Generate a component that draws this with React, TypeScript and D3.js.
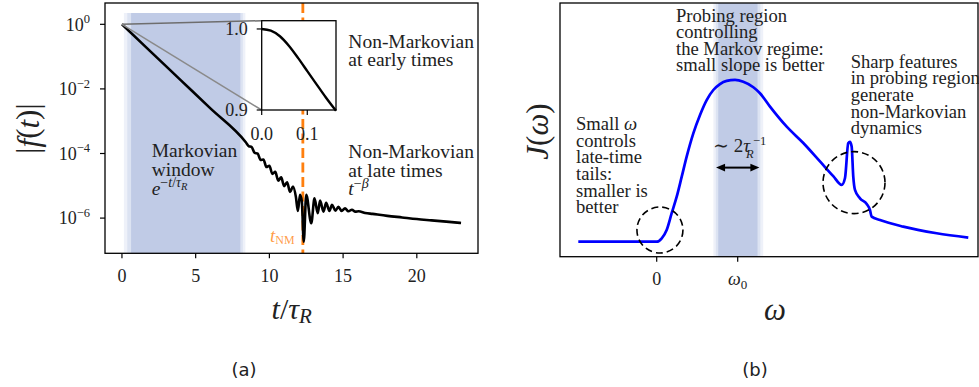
import React from "react";
import * as d3 from "d3";

// ---------- Panel (a) data ----------
const decayT = [0, 2, 4, 6, 8.4, 8.6, 8.8, 9.0, 9.2, 9.4, 9.6, 9.8, 10.0, 10.2, 10.4, 10.6, 10.8, 11.0, 11.2, 11.4, 11.6, 11.8, 11.93, 12.08, 12.2, 12.33, 12.5, 12.84, 13.06, 13.28, 13.44, 13.67, 13.85, 14.07, 14.25, 14.48, 14.68, 14.9, 15.13, 15.36, 15.6, 15.83, 16.05, 16.5, 17, 18, 19, 20, 21, 22, 23];
const decayLog10 = [0, -0.868, -1.736, -2.604, -3.65, -3.77, -3.8, -3.98, -4.0, -4.2, -4.19, -4.42, -4.38, -4.63, -4.57, -4.84, -4.74, -5.01, -4.89, -5.19, -5.02, -5.35, -5.78, -5.28, -5.48, -6.73, -5.28, -6.16, -5.39, -5.85, -5.46, -5.8, -5.53, -5.78, -5.59, -5.77, -5.65, -5.78, -5.7, -5.79, -5.74, -5.8, -5.79, -5.84, -5.87, -5.93, -5.98, -6.03, -6.07, -6.11, -6.15];
const insetT = [0, 0.02, 0.04, 0.06, 0.08, 0.1, 0.12, 0.14, 0.163];
const insetF = [1.0, 0.998, 0.991, 0.979, 0.964, 0.948, 0.932, 0.916, 0.899];
const tTicks = [0, 5, 10, 15, 20];
const fTickExps = [0, -2, -4, -6];
const insetXTicks = [0.0, 0.1];
const insetXLabels = ["0.0", "0.1"];
const insetYTicks = [1.0, 0.9];
const insetYLabels = ["1.0", "0.9"];
const markovWindow = [0.62, 8.03];
const tNM = 12.27;

// ---------- Panel (b) data ----------
const omega = [-0.968, 0, 0.062, 0.123, 0.185, 0.247, 0.309, 0.37, 0.452, 0.535, 0.617, 0.699, 0.781, 0.864, 0.967, 1.069, 1.193, 1.275, 1.399, 1.605, 1.81, 2.016, 2.18, 2.284, 2.325, 2.365, 2.386, 2.407, 2.427, 2.448, 2.51, 2.593, 2.633, 2.654, 2.757, 3.044, 3.457, 3.847];
const spectralJ = [0, 0, 0.021, 0.072, 0.176, 0.278, 0.402, 0.526, 0.67, 0.784, 0.876, 0.938, 0.975, 0.994, 1.0, 0.989, 0.955, 0.918, 0.835, 0.711, 0.61, 0.496, 0.405, 0.351, 0.394, 0.609, 0.618, 0.588, 0.402, 0.32, 0.268, 0.233, 0.196, 0.155, 0.134, 0.093, 0.052, 0.025];
const omegaTicks = [0, 1];
const probeBand = [0.76, 1.245];
const arrowSpan = [0.733, 1.268];
const arrowJ = 0.458;
const circleCenters = [[0.04, 0.072], [2.436, 0.365]];

const SERIF = "Liberation Serif, DejaVu Serif, serif";
const SANS = "DejaVu Sans, sans-serif";
const TXT = "#222";

export default function App() {
  // panel (a) scales
  const xA = d3.scaleLinear().domain([-1.15, 24.15]).range([105, 478]);
  const yA = d3.scaleLog().domain([Math.pow(10, -7.09), Math.pow(10, 0.66)]).range([253.3, 3]);
  const xI = d3.scaleLinear().domain([0, 0.163]).range([261.7, 336]);
  const yI = d3.scaleLinear().domain([0.9, 1.0102]).range([110, 20.7]);
  // panel (b) scales
  const xB = d3.scaleLinear().domain([-1.194, 3.967]).range([560, 978]);
  const yB = d3.scaleLinear().domain([-0.093, 1.476]).range([256.7, 3]);

  const decayPath = d3
    .line<number>()
    .x((d) => xA(d))
    .y((_, i) => yA(Math.pow(10, decayLog10[i])))
    .curve(d3.curveMonotoneX)(decayT) as string;
  const insetPath = d3
    .line<number>()
    .x((d) => xI(d))
    .y((_, i) => yI(insetF[i]))
    .curve(d3.curveMonotoneX)(insetT) as string;
  const jPath = d3
    .line<number>()
    .x((d) => xB(d))
    .y((_, i) => yB(spectralJ[i]))
    .curve(d3.curveMonotoneX)(omega) as string;

  const [aL, aR] = [xA.range()[0], xA.range()[1]];
  const [aT, aB] = [yA.range()[1], yA.range()[0]];
  const [bL, bR] = [xB.range()[0], xB.range()[1]];
  const [bT, bB] = [yB.range()[1], yB.range()[0]];
  const bandTop = yA(Math.pow(10, 0.35));

  const ax1 = xB(arrowSpan[0]);
  const ax2 = xB(arrowSpan[1]);
  const ay = yB(arrowJ);

  const serif = { fontFamily: SERIF };

  return (
    <svg
      width={979}
      height={387}
      style={{ position: "absolute", left: 0, top: 0, background: "#fff", fontFamily: SERIF }}
    >
      {/* ================= Panel (a) ================= */}
      <rect x={xA(markovWindow[0] - 0.49)} y={bandTop} width={xA(markovWindow[1] + 0.34) - xA(markovWindow[0] - 0.49)} height={aB - bandTop} fill="#eef1f9" />
      <rect x={xA(markovWindow[0] - 0.26)} y={bandTop} width={xA(markovWindow[1] + 0.17) - xA(markovWindow[0] - 0.26)} height={aB - bandTop} fill="#dce3f2" />
      <rect x={xA(markovWindow[0])} y={bandTop} width={xA(markovWindow[1]) - xA(markovWindow[0])} height={aB - bandTop} fill="#c0cbe6" />

      <line x1={xA(tNM)} x2={xA(tNM)} y1={aT} y2={aB} stroke="#ff7f0e" strokeWidth={2.8} strokeDasharray="10,4.5" />

      <path d={decayPath} fill="none" stroke="#000" strokeWidth={2.6} strokeLinejoin="round" />

      {/* connector lines to inset */}
      <line x1={xA(0)} y1={yA(1)} x2={xI(0)} y2={yI(1.0102)} stroke="#6e6e6e" strokeWidth={1.5} />
      <line x1={xA(0)} y1={yA(1)} x2={xI(0)} y2={yI(0.9)} stroke="#8a8a8a" strokeWidth={1.5} />

      {/* inset */}
      <rect x={xI(0)} y={yI(1.0102)} width={xI(0.163) - xI(0)} height={yI(0.9) - yI(1.0102)} fill="#fff" />
      <path d={insetPath} fill="none" stroke="#000" strokeWidth={2.4} />
      <rect x={xI(0)} y={yI(1.0102)} width={xI(0.163) - xI(0)} height={yI(0.9) - yI(1.0102)} fill="none" stroke="#000" strokeWidth={1.3} />
      {insetXTicks.map((v, i) => (
        <g key={"ix" + i}>
          <line x1={xI(v)} x2={xI(v)} y1={yI(0.9)} y2={yI(0.9) + 5} stroke="#000" strokeWidth={1.2} />
          <text x={xI(v)} y={139.5} textAnchor="middle" fontSize={18} fill={TXT} style={serif}>{insetXLabels[i]}</text>
        </g>
      ))}
      {insetYTicks.map((v, i) => (
        <g key={"iy" + i}>
          <line x1={xI(0) - 5} x2={xI(0)} y1={yI(v)} y2={yI(v)} stroke="#000" strokeWidth={1.2} />
          <text x={xI(0) - 14} y={yI(v) + 6} textAnchor="end" fontSize={18} fill={TXT} style={serif}>{insetYLabels[i]}</text>
        </g>
      ))}

      {/* axes box a */}
      <rect x={aL} y={aT} width={aR - aL} height={aB - aT} fill="none" stroke="#000" strokeWidth={1.3} />
      {tTicks.map((v) => (
        <g key={"tx" + v}>
          <line x1={xA(v)} x2={xA(v)} y1={aB} y2={aB + 5} stroke="#000" strokeWidth={1.2} />
          <text x={xA(v)} y={281.7} textAnchor="middle" fontSize={18} fill={TXT} style={serif}>{v}</text>
        </g>
      ))}
      {fTickExps.map((k) => (
        <g key={"fy" + k}>
          <line x1={aL - 5} x2={aL} y1={yA(Math.pow(10, k))} y2={yA(Math.pow(10, k))} stroke="#000" strokeWidth={1.2} />
          <text x={90} y={yA(Math.pow(10, k)) + 6.2} textAnchor="end" fontSize={18} fill={TXT} style={serif}>
            10<tspan dy={-7.5} fontSize={12.5}>{k === 0 ? "0" : "\u2212" + -k}</tspan>
          </text>
        </g>
      ))}

      {/* annotations a */}
      <g fontSize={19.5} fill={TXT} style={serif}>
        <text x={151.7} y={156.7}>Markovian</text>
        <text x={151.7} y={175.7}>window</text>
        <text x={151.7} y={194.5}>
          <tspan fontStyle="italic">e</tspan>
          <tspan dy={-7.5} fontSize={14}>{"\u2212"}</tspan>
          <tspan fontSize={14} fontStyle="italic">t</tspan>
          <tspan fontSize={14}>/</tspan>
          <tspan fontSize={14} fontStyle="italic">τ</tspan>
          <tspan dy={3} fontSize={10.5} fontStyle="italic">R</tspan>
        </text>
        <text x={348.3} y={48.3}>Non-Markovian</text>
        <text x={348.3} y={65.5}>at early times</text>
        <text x={348.3} y={158.3}>Non-Markovian</text>
        <text x={348.3} y={176.7}>at late times</text>
        <text x={348.3} y={195}>
          <tspan fontStyle="italic">t</tspan>
          <tspan dy={-7.5} fontSize={14}>{"\u2212"}</tspan>
          <tspan fontSize={14} fontStyle="italic">β</tspan>
        </text>
      </g>
      <text x={270} y={241.7} fill="#ff7f0e" fillOpacity={0.78} fontSize={19} style={serif}>
        <tspan fontStyle="italic">t</tspan>
        <tspan dy={2} fontSize={12}>NM</tspan>
      </text>

      {/* axis labels a */}
      <text transform="translate(27.5,128.5) rotate(-90)" textAnchor="middle" dominantBaseline="central" fontSize={31} fill={TXT} style={serif}>
        |<tspan fontStyle="italic">f</tspan>(<tspan fontStyle="italic">t</tspan>)|
      </text>
      <text x={291.7} y={318.5} textAnchor="middle" fontSize={30} fill={TXT} style={serif}>
        <tspan fontStyle="italic">t</tspan>/<tspan fontStyle="italic">τ</tspan>
        <tspan dy={4} fontSize={21} fontStyle="italic">R</tspan>
      </text>
      <text x={244} y={376} textAnchor="middle" fontSize={18} fill={TXT} style={{ fontFamily: SANS }}>(a)</text>

      {/* ================= Panel (b) ================= */}
      <rect x={xB(probeBand[0] - 0.06)} y={bT} width={xB(probeBand[1] + 0.07) - xB(probeBand[0] - 0.06)} height={bB - bT} fill="#eef1f9" />
      <rect x={xB(probeBand[0] - 0.03)} y={bT} width={xB(probeBand[1] + 0.035) - xB(probeBand[0] - 0.03)} height={bB - bT} fill="#dce3f2" />
      <rect x={xB(probeBand[0])} y={bT} width={xB(probeBand[1]) - xB(probeBand[0])} height={bB - bT} fill="#c0cbe6" />

      <path d={jPath} fill="none" stroke="#0000ff" strokeWidth={2.7} strokeLinejoin="round" />

      {circleCenters.map((c, i) => (
        <circle key={"c" + i} cx={xB(c[0])} cy={yB(c[1])} r={i === 0 ? 23 : 31} fill="none" stroke="#000" strokeWidth={1.6} strokeDasharray="7,4" />
      ))}

      {/* double arrow */}
      <line x1={ax1 + 6} x2={ax2 - 6} y1={ay} y2={ay} stroke="#000" strokeWidth={2} />
      <polygon points={`${ax1},${ay} ${ax1 + 9},${ay - 3.8} ${ax1 + 9},${ay + 3.8}`} fill="#000" />
      <polygon points={`${ax2},${ay} ${ax2 - 9},${ay - 3.8} ${ax2 - 9},${ay + 3.8}`} fill="#000" />
      <g fill={TXT} style={serif}>
        <text x={713} y={151.7} fontSize={19}>∼ 2<tspan fontStyle="italic">τ</tspan></text>
        <text x={746} y={157.5} fontSize={12.5} fontStyle="italic">R</text>
        <text x={753} y={145} fontSize={12.5}>{"\u2212"}1</text>
      </g>

      {/* axes box b */}
      <rect x={bL} y={bT} width={bR - bL} height={bB - bT} fill="none" stroke="#000" strokeWidth={1.3} />
      {omegaTicks.map((v) => (
        <line key={"ot" + v} x1={xB(v)} x2={xB(v)} y1={bB} y2={bB + 5} stroke="#000" strokeWidth={1.2} />
      ))}
      <text x={xB(omegaTicks[0])} y={285} textAnchor="middle" fontSize={18} fill={TXT} style={serif}>0</text>
      <text x={xB(omegaTicks[1])} y={285} textAnchor="middle" fontSize={18} fill={TXT} style={serif}>
        <tspan fontStyle="italic">ω</tspan>
        <tspan dy={3.5} fontSize={13}>0</tspan>
      </text>

      {/* annotations b */}
      <g fontSize={18.6} fill={TXT} style={serif}>
        <text x={676} y={21.7}>Probing region</text>
        <text x={676} y={38.3}>controlling</text>
        <text x={676} y={54.8}>the Markov regime:</text>
        <text x={676} y={71.3}>small slope is better</text>

        <text x={850.7} y={67.5}>Sharp features</text>
        <text x={850.7} y={84.2}>in probing region</text>
        <text x={850.7} y={100.8}>generate</text>
        <text x={850.7} y={117.5}>non-Markovian</text>
        <text x={850.7} y={134.2}>dynamics</text>

        <text x={576} y={130}>Small <tspan fontStyle="italic">ω</tspan></text>
        <text x={576} y={146.7}>controls</text>
        <text x={576} y={163.3}>late-time</text>
        <text x={576} y={180}>tails:</text>
        <text x={576} y={196.7}>smaller is</text>
        <text x={576} y={213.3}>better</text>
      </g>

      {/* axis labels b */}
      <text transform="translate(537,131.5) rotate(-90)" textAnchor="middle" dominantBaseline="central" fontSize={31} fill={TXT} style={serif}>
        <tspan fontStyle="italic">J</tspan>(<tspan fontStyle="italic">ω</tspan>)
      </text>
      <text x={775} y={320} textAnchor="middle" fontSize={31} fontStyle="italic" fill={TXT} style={serif}>ω</text>
      <text x={755} y={376} textAnchor="middle" fontSize={18} fill={TXT} style={{ fontFamily: SANS }}>(b)</text>
    </svg>
  );
}
